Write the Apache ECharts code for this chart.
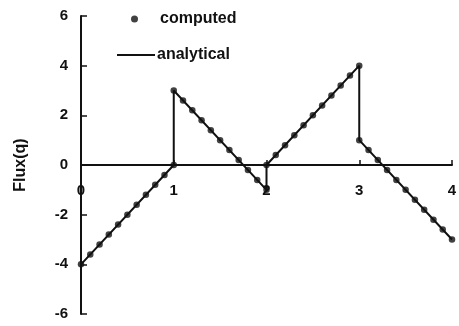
<!DOCTYPE html>
<html>
<head>
<meta charset="utf-8">
<script src="https://cdn.jsdelivr.net/npm/echarts@6/dist/echarts.min.js"></script>
<style>
  html, body { margin: 0; padding: 0; background: #fff; }
  #chart { width: 459px; height: 326px; }
</style>
</head>
<body>
<div id="chart"></div>
<script>
// computed points (x, flux), step 0.1
const computedX = [
  0, 0.1, 0.2, 0.3, 0.4, 0.5, 0.6, 0.7, 0.8, 0.9, 1,
  1, 1.1, 1.2, 1.3, 1.4, 1.5, 1.6, 1.7, 1.8, 1.9, 2,
  2, 2.1, 2.2, 2.3, 2.4, 2.5, 2.6, 2.7, 2.8, 2.9, 3,
  3, 3.1, 3.2, 3.3, 3.4, 3.5, 3.6, 3.7, 3.8, 3.9, 4
];
const computedY = [
  -4, -3.6, -3.2, -2.8, -2.4, -2, -1.6, -1.2, -0.8, -0.4, 0,
  3, 2.6, 2.2, 1.8, 1.4, 1, 0.6, 0.2, -0.2, -0.6, -1,
  0, 0.4, 0.8, 1.2, 1.6, 2, 2.4, 2.8, 3.2, 3.6, 4,
  1, 0.6, 0.2, -0.2, -0.6, -1, -1.4, -1.8, -2.2, -2.6, -3
];
// analytical solution corners
const analyticalX = [0, 1, 1, 2, 2, 3, 3, 4];
const analyticalY = [-4, 0, 3, -1, 0, 4, 1, -3];

const ink = "#111";
const font = "'Liberation Sans', Arial, sans-serif";

const gridTop = 16, gridBottom = 12, chartH = 326;
const plotH = chartH - gridTop - gridBottom;

const myChart = echarts.init(document.getElementById("chart"));
const option = {
  animation: false,
  grid: { left: 81, right: 7, top: gridTop, bottom: gridBottom, outerBoundsMode: "none" },
  legend: [
    {
      data: ["computed"],
      left: 126, top: 6, orient: "vertical",
      itemWidth: 7, itemHeight: 7,
      textStyle: { color: ink, fontFamily: font, fontWeight: "bold", fontSize: 16, padding: [0, 0, 0, 17] }
    },
    {
      data: [{ name: "analytical", icon: "rect" }],
      left: 112, top: 42, orient: "vertical",
      itemWidth: 38, itemHeight: 2,
      textStyle: { color: ink, fontFamily: font, fontWeight: "bold", fontSize: 16, padding: [0, 0, 0, -3] }
    }
  ],
  xAxis: {
    type: "value", min: 0, max: 4, interval: 1,
    position: "bottom",
    offset: -plotH / 2, // x axis sits on flux = 0
    splitLine: { show: false },
    axisLine: { onZero: false, lineStyle: { color: ink, width: 2 } },
    axisTick: { inside: true, length: 5, lineStyle: { color: ink, width: 1.5 } },
    axisLabel: { margin: 18, color: ink, fontFamily: font, fontWeight: "bold", fontSize: 15 }
  },
  yAxis: {
    type: "value", min: -6, max: 6, interval: 2,
    name: "Flux(q)", nameLocation: "middle", nameGap: 52, nameRotate: 90,
    nameTextStyle: { color: ink, fontFamily: font, fontWeight: "bold", fontSize: 16 },
    splitLine: { show: false },
    axisLine: { lineStyle: { color: ink, width: 2 } },
    axisTick: { inside: true, length: 6, lineStyle: { color: ink, width: 1.5 } },
    axisLabel: { margin: 13, color: ink, fontFamily: font, fontWeight: "bold", fontSize: 15 }
  },
  series: [
    {
      name: "computed", type: "scatter",
      symbol: "circle", symbolSize: 6.5,
      itemStyle: { color: ink },
      data: computedX.map((x, i) => [x, computedY[i]]),
      z: 3
    },
    {
      name: "analytical", type: "line",
      symbol: "none",
      lineStyle: { color: ink, width: 2 },
      itemStyle: { color: ink },
      data: analyticalX.map((x, i) => [x, analyticalY[i]]),
      z: 2
    }
  ]
};
myChart.setOption(option);
</script>
</body>
</html>
